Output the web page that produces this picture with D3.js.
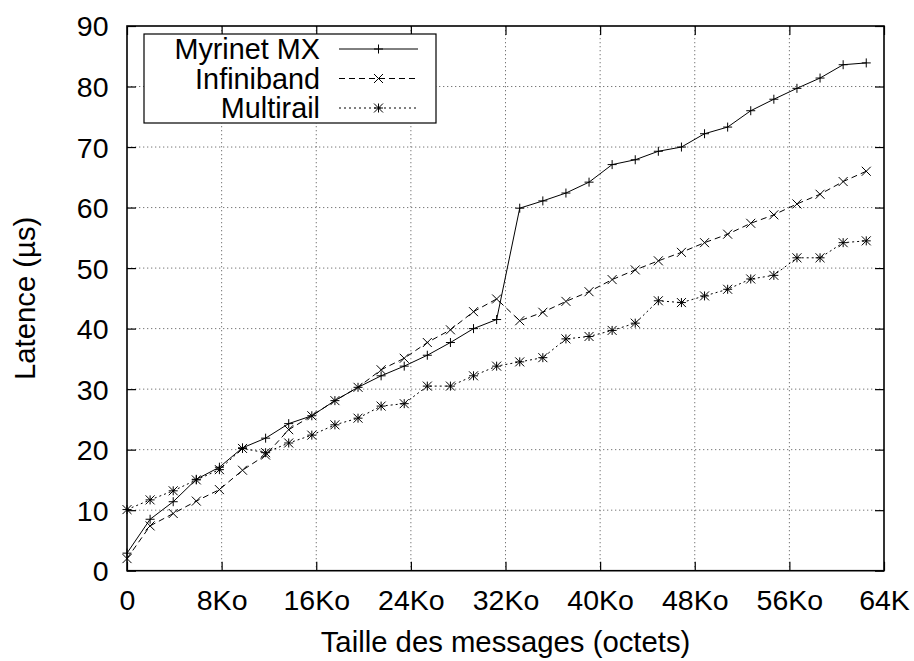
<!DOCTYPE html>
<html>
<head>
<meta charset="utf-8">
<script src="https://cdn.jsdelivr.net/npm/d3@7"></script>
<style>
  html, body { margin: 0; padding: 0; background: #fff; }
  svg { display: block; }
  text { font-family: "Liberation Sans", Arial, Helvetica, sans-serif; fill: #000; }
</style>
</head>
<body>
<svg id="chart" width="914" height="661"></svg>
<script>
// ---- data ----
const sizes = [0, 2000, 4000, 6000, 8000, 10000, 12000, 14000, 16000, 18000, 20000,
  22000, 24000, 26000, 28000, 30000, 32000, 34000, 36000, 38000, 40000, 42000,
  44000, 46000, 48000, 50000, 52000, 54000, 56000, 58000, 60000, 62000, 64000];

const myrinet = [2.9, 8.5, 11.4, 15.1, 17.1, 20.3, 21.9, 24.3, 25.6, 28.1, 30.3,
  32.2, 33.8, 35.6, 37.7, 40.0, 41.5, 59.9, 61.1, 62.4, 64.2, 67.1,
  67.9, 69.3, 70.0, 72.2, 73.3, 76.0, 77.9, 79.7, 81.4, 83.6, 83.9];

const infiniband = [2.0, 7.4, 9.45, 11.5, 13.4, 16.6, 19.1, 23.3, 25.6, 28.1, 30.3,
  33.2, 35.1, 37.7, 39.8, 42.8, 44.9, 41.3, 42.7, 44.5, 46.1, 48.1,
  49.7, 51.2, 52.6, 54.2, 55.6, 57.4, 58.8, 60.6, 62.2, 64.3, 66.0];

const multirail = [10.1, 11.7, 13.2, 15.0, 16.7, 20.2, 19.5, 21.1, 22.4, 24.1, 25.2,
  27.2, 27.6, 30.5, 30.5, 32.2, 33.8, 34.5, 35.2, 38.3, 38.7, 39.7,
  40.9, 44.6, 44.3, 45.4, 46.5, 48.2, 48.8, 51.7, 51.7, 54.2, 54.5];

const seriesNames = ["Myrinet MX", "Infiniband", "Multirail"];

const xTickValues = [0, 8192, 16384, 24576, 32768, 40960, 49152, 57344, 65536];
const xTickLabels = ["0", "8Ko", "16Ko", "24Ko", "32Ko", "40Ko", "48Ko", "56Ko", "64K"];
const yTickValues = [0, 10, 20, 30, 40, 50, 60, 70, 80, 90];

const xTitle = "Taille des messages (octets)";
const yTitle = "Latence (µs)";

// ---- layout ----
const L = 127, R = 884, T = 26, B = 570.7;
const FS_TICK = 28.5, FS_TITLE = 29.3, FS_LEG = 28.8;

const svg = d3.select("#chart");
const x = d3.scaleLinear().domain([0, 65536]).range([L, R]);
const y = d3.scaleLinear().domain([0, 90]).range([B, T]);

// grid
const grid = svg.append("g")
  .attr("stroke", "#777").attr("stroke-width", 1).attr("stroke-dasharray", "1.3,2.7");
xTickValues.slice(1, -1).forEach(v => {
  grid.append("line").attr("x1", x(v)).attr("x2", x(v)).attr("y1", T).attr("y2", B);
});
yTickValues.slice(1, -1).forEach(v => {
  grid.append("line").attr("x1", L).attr("x2", R).attr("y1", y(v)).attr("y2", y(v));
});

// axes with inward ticks (bottom / left with labels, top / right mirrored)
const TK = 9;
const xAxisB = d3.axisBottom(x).tickValues(xTickValues)
  .tickFormat((d, i) => xTickLabels[i]).tickSizeInner(-TK).tickSizeOuter(0);
const gxb = svg.append("g").attr("transform", `translate(0,${B})`).call(xAxisB);
gxb.select(".domain").remove();
gxb.selectAll("text").attr("font-size", FS_TICK).attr("font-family", null).attr("dy", null)
  .attr("y", 39.5).attr("fill", "#000");

const yAxisL = d3.axisLeft(y).tickValues(yTickValues)
  .tickSizeInner(-TK).tickSizeOuter(0).tickPadding(0);
const gyl = svg.append("g").attr("transform", `translate(${L},0)`).call(yAxisL);
gyl.select(".domain").remove();
gyl.selectAll("text").attr("font-size", FS_TICK).attr("font-family", null)
  .attr("x", -18.5).attr("dy", "0.35em").attr("fill", "#000");

const gxt = svg.append("g").attr("transform", `translate(0,${T})`)
  .call(d3.axisTop(x).tickValues(xTickValues).tickFormat("").tickSizeInner(-TK).tickSizeOuter(0));
gxt.select(".domain").remove();
const gyr = svg.append("g").attr("transform", `translate(${R},0)`)
  .call(d3.axisRight(y).tickValues(yTickValues).tickFormat("").tickSizeInner(-TK).tickSizeOuter(0));
gyr.select(".domain").remove();
svg.selectAll(".tick line").attr("stroke", "#000").attr("stroke-width", 1.2);

// frame
svg.append("rect").attr("x", L).attr("y", T).attr("width", R - L).attr("height", B - T)
  .attr("fill", "none").attr("stroke", "#000").attr("stroke-width", 1.6);

// titles
svg.append("text").attr("x", (L + R) / 2).attr("y", 651.5).attr("text-anchor", "middle")
  .attr("font-size", FS_TITLE).text(xTitle);
svg.append("text").attr("transform", `translate(35,${(T + B) / 2}) rotate(-90)`)
  .attr("text-anchor", "middle").attr("font-size", FS_TITLE).text(yTitle);

// markers
const S = 4.5;
const markPath = {
  plus: `M${-S},0H${S}M0,${-S}V${S}`,
  cross: `M${-S},${-S}L${S},${S}M${-S},${S}L${S},${-S}`,
  star: `M${-S},0H${S}M0,${-S}V${S}M${-S},${-S}L${S},${S}M${-S},${S}L${S},${-S}`
};

const series = [
  { name: seriesNames[0], values: myrinet, dash: null, mark: "plus" },
  { name: seriesNames[1], values: infiniband, dash: "6,4", mark: "cross" },
  { name: seriesNames[2], values: multirail, dash: "2,3", mark: "star" }
];

const line = d3.line().x(d => x(d[0])).y(d => y(d[1]));
series.forEach(s => {
  const pts = sizes.map((v, i) => [v, s.values[i]]);
  svg.append("path").datum(pts).attr("d", line).attr("fill", "none")
    .attr("stroke", "#000").attr("stroke-width", 1)
    .attr("stroke-dasharray", s.dash);
  svg.append("g").selectAll("path").data(pts).join("path")
    .attr("transform", d => `translate(${x(d[0])},${y(d[1])})`)
    .attr("d", markPath[s.mark]).attr("fill", "none")
    .attr("stroke", "#000").attr("stroke-width", 1);
});

// legend
const leg = svg.append("g");
leg.append("rect").attr("x", 144).attr("y", 34).attr("width", 292).attr("height", 89)
  .attr("fill", "#fff").attr("stroke", "#000").attr("stroke-width", 1.2);
const rowY = [49, 78.5, 108];
series.forEach((s, i) => {
  leg.append("text").attr("x", 320).attr("y", rowY[i] + 10).attr("text-anchor", "end")
    .attr("font-size", FS_LEG).text(s.name);
  leg.append("line").attr("x1", 339).attr("x2", 418).attr("y1", rowY[i]).attr("y2", rowY[i])
    .attr("stroke", "#000").attr("stroke-width", 1).attr("stroke-dasharray", s.dash);
  leg.append("path").attr("transform", `translate(378.5,${rowY[i]})`)
    .attr("d", markPath[s.mark]).attr("fill", "none").attr("stroke", "#000").attr("stroke-width", 1);
});
</script>
</body>
</html>
